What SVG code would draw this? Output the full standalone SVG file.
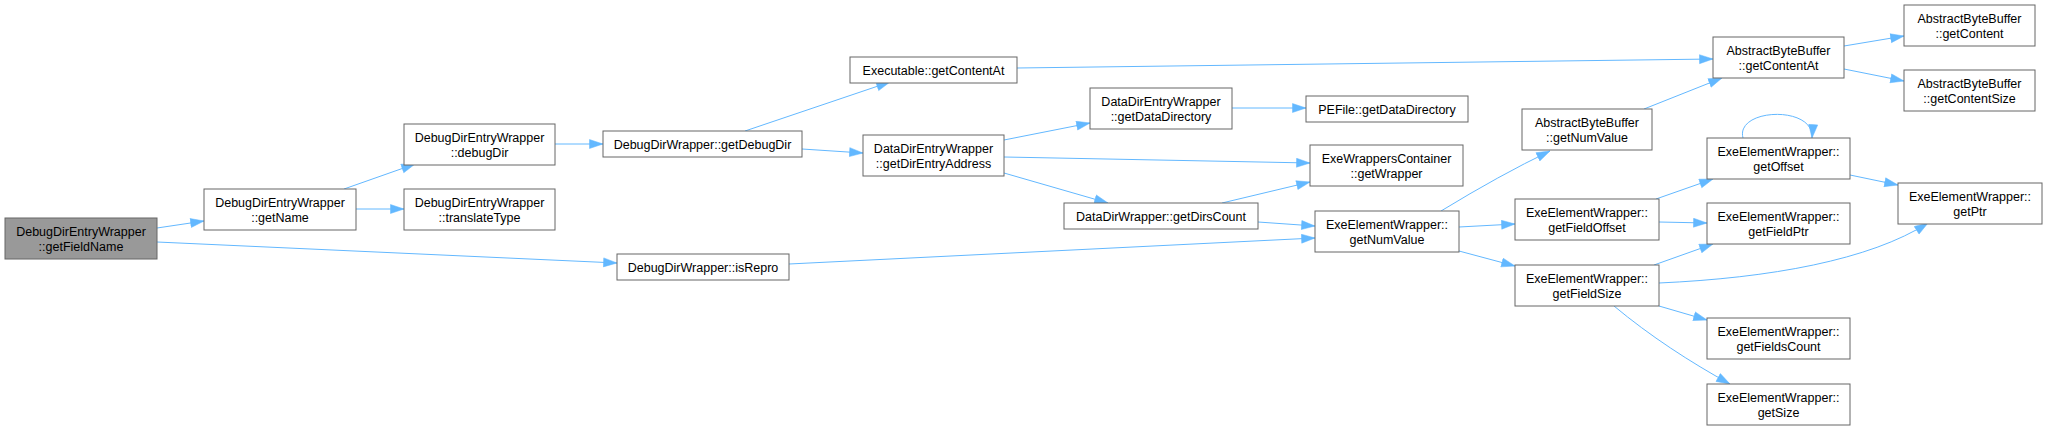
<svg xmlns="http://www.w3.org/2000/svg" width="2047" height="430" viewBox="0 0 2047 430">
<style>
.node rect{fill:#ffffff;stroke:#666666;stroke-width:1}
.node.hl rect{fill:#999999}
.node text{font-family:"Liberation Sans",Arial,sans-serif;font-size:12.5px;fill:#000000;text-anchor:middle}
.edges path{fill:none;stroke:#63b8ff;stroke-width:1;marker-end:url(#arr)}
</style>
<defs>
<marker id="arr" markerUnits="userSpaceOnUse" markerWidth="15" markerHeight="11" refX="14" refY="5" orient="auto">
<path d="M0.5,0.5 L14,5 L0.5,9.5 z" fill="#63b8ff" stroke="#63b8ff" stroke-width="0.5"/>
</marker>
</defs>
<rect x="0" y="0" width="2047" height="430" fill="#ffffff"/>
<g class="edges" id="edges">
<path d="M157,228 L204,221"/>
<path d="M157,242 L617,263"/>
<path d="M344,189 L415,164"/>
<path d="M356,209 L404,209"/>
<path d="M555,144 L603,144"/>
<path d="M745,131 L890,82"/>
<path d="M802,149 L863,153"/>
<path d="M1004,140 L1090,123"/>
<path d="M1004,157 L1310,163"/>
<path d="M1004,173 L1108,203"/>
<path d="M1232,108 L1306,108"/>
<path d="M1222,203 L1310,182"/>
<path d="M1258,222 L1315,226"/>
<path d="M789,264 L1315,238"/>
<path d="M1017,68 L1713,59"/>
<path d="M1441,211 Q1500,175 1550,151"/>
<path d="M1459,227 L1515,224"/>
<path d="M1459,251 L1515,266"/>
<path d="M1644,109 L1722,78"/>
<path d="M1844,46 L1904,36"/>
<path d="M1844,69 L1904,81"/>
<path d="M1743,138 C1735,108 1815,105 1812,138"/>
<path d="M1850,175 L1898,185"/>
<path d="M1656,199 L1713,179"/>
<path d="M1659,222 L1707,223"/>
<path d="M1654,265 L1713,244"/>
<path d="M1659,283 C1770,278 1870,260 1928,223"/>
<path d="M1659,306 L1707,320"/>
<path d="M1614,306 C1650,336 1690,362 1730,384"/>
</g>
<g class="node hl" id="n_getFieldName"><rect x="5" y="218" width="152" height="41"/><text x="81" y="236">DebugDirEntryWrapper</text><text x="81" y="251">::getFieldName</text></g>
<g class="node" id="n_getName"><rect x="204" y="189" width="152" height="41"/><text x="280" y="207">DebugDirEntryWrapper</text><text x="280" y="222">::getName</text></g>
<g class="node" id="n_debugDir"><rect x="404" y="124" width="151" height="41"/><text x="479.5" y="142">DebugDirEntryWrapper</text><text x="479.5" y="157">::debugDir</text></g>
<g class="node" id="n_translateType"><rect x="404" y="189" width="151" height="41"/><text x="479.5" y="207">DebugDirEntryWrapper</text><text x="479.5" y="222">::translateType</text></g>
<g class="node" id="n_getDebugDir"><rect x="603" y="131" width="199" height="26"/><text x="702.5" y="148.5">DebugDirWrapper::getDebugDir</text></g>
<g class="node" id="n_isRepro"><rect x="617" y="254" width="172" height="26"/><text x="703" y="271.5">DebugDirWrapper::isRepro</text></g>
<g class="node" id="n_exeGetContentAt"><rect x="850" y="57" width="167" height="26"/><text x="933.5" y="74.5">Executable::getContentAt</text></g>
<g class="node" id="n_getDirEntryAddress"><rect x="863" y="135" width="141" height="41"/><text x="933.5" y="153">DataDirEntryWrapper</text><text x="933.5" y="168">::getDirEntryAddress</text></g>
<g class="node" id="n_getDataDirectory"><rect x="1090" y="88" width="142" height="41"/><text x="1161" y="106">DataDirEntryWrapper</text><text x="1161" y="121">::getDataDirectory</text></g>
<g class="node" id="n_getDirsCount"><rect x="1064" y="203" width="194" height="26"/><text x="1161" y="220.5">DataDirWrapper::getDirsCount</text></g>
<g class="node" id="n_peGetDataDirectory"><rect x="1306" y="96" width="162" height="26"/><text x="1387" y="113.5">PEFile::getDataDirectory</text></g>
<g class="node" id="n_getWrapper"><rect x="1310" y="145" width="153" height="41"/><text x="1386.5" y="163">ExeWrappersContainer</text><text x="1386.5" y="178">::getWrapper</text></g>
<g class="node" id="n_eewGetNumValue"><rect x="1315" y="211" width="144" height="41"/><text x="1387" y="229">ExeElementWrapper::</text><text x="1387" y="244">getNumValue</text></g>
<g class="node" id="n_abbGetNumValue"><rect x="1522" y="109" width="130" height="41"/><text x="1587" y="127">AbstractByteBuffer</text><text x="1587" y="142">::getNumValue</text></g>
<g class="node" id="n_abbGetContentAt"><rect x="1713" y="37" width="131" height="41"/><text x="1778.5" y="55">AbstractByteBuffer</text><text x="1778.5" y="70">::getContentAt</text></g>
<g class="node" id="n_getContent"><rect x="1904" y="5" width="131" height="41"/><text x="1969.5" y="23">AbstractByteBuffer</text><text x="1969.5" y="38">::getContent</text></g>
<g class="node" id="n_getContentSize"><rect x="1904" y="70" width="131" height="41"/><text x="1969.5" y="88">AbstractByteBuffer</text><text x="1969.5" y="103">::getContentSize</text></g>
<g class="node" id="n_getOffset"><rect x="1707" y="138" width="143" height="41"/><text x="1778.5" y="156">ExeElementWrapper::</text><text x="1778.5" y="171">getOffset</text></g>
<g class="node" id="n_getPtr"><rect x="1898" y="183" width="144" height="41"/><text x="1970" y="201">ExeElementWrapper::</text><text x="1970" y="216">getPtr</text></g>
<g class="node" id="n_getFieldOffset"><rect x="1515" y="199" width="144" height="41"/><text x="1587" y="217">ExeElementWrapper::</text><text x="1587" y="232">getFieldOffset</text></g>
<g class="node" id="n_getFieldPtr"><rect x="1707" y="203" width="143" height="41"/><text x="1778.5" y="221">ExeElementWrapper::</text><text x="1778.5" y="236">getFieldPtr</text></g>
<g class="node" id="n_getFieldSize"><rect x="1515" y="265" width="144" height="41"/><text x="1587" y="283">ExeElementWrapper::</text><text x="1587" y="298">getFieldSize</text></g>
<g class="node" id="n_getFieldsCount"><rect x="1707" y="318" width="143" height="41"/><text x="1778.5" y="336">ExeElementWrapper::</text><text x="1778.5" y="351">getFieldsCount</text></g>
<g class="node" id="n_getSize"><rect x="1707" y="384" width="143" height="41"/><text x="1778.5" y="402">ExeElementWrapper::</text><text x="1778.5" y="417">getSize</text></g>
</svg>
